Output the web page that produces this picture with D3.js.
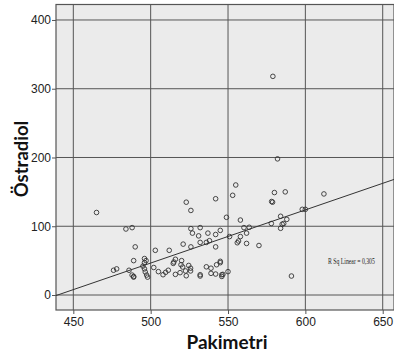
<!DOCTYPE html>
<html>
<head>
<meta charset="utf-8">
<script src="https://cdn.jsdelivr.net/npm/d3@7"></script>
<style>
  body { margin: 0; background: #fff; }
  svg { display: block; }
</style>
</head>
<body>
<div id="chart"></div>
<script>
// Pakimetri (x) values
const pakimetri = [
  465, 484, 488, 490, 489, 476, 478, 486, 488, 489, 489,
  496, 497, 496, 495, 496, 496.5, 497.4, 498, 502, 503, 505,
  508, 509.7, 511.4, 512, 514.6, 515, 516, 516, 519, 520, 519.6,
  520.7, 521, 522.5, 523, 523, 524.6, 525.8, 525.8, 526, 526, 527,
  526, 531, 532, 532, 532, 532, 536, 536, 537, 538, 539, 539,
  542, 542, 542, 542, 542.6, 545, 545, 545, 546, 546, 546.7, 550,
  549, 551, 553, 555, 556, 556.8, 558, 558, 560.3, 563.7, 562, 562,
  570, 578, 578.2, 578.8, 579, 580, 582, 584, 584, 585, 586, 587,
  588, 591, 598, 600, 612
];
// Östradiol (y) values, same order
const ostradiol = [
  120, 96, 98, 70, 50, 36, 38, 36, 29, 27, 26,
  53, 50, 47, 42, 38, 33.5, 29, 26, 40, 65, 34,
  29.5, 33, 36, 65, 46, 48, 52, 30, 32.5, 50, 44,
  40.7, 74, 35, 28, 135, 43, 39, 35, 123, 96.5, 90,
  70, 86, 98, 76.5, 29.5, 27.6, 76.5, 41, 90, 79, 39, 31.5,
  140, 88, 70, 30.5, 44, 94, 47, 49, 29.5, 27, 30, 34,
  113, 85, 145, 160, 76, 78.5, 109, 85, 98, 98.5, 90, 75,
  72, 104, 136, 135, 318, 149, 198, 114.5, 97, 103, 104, 150,
  110, 27.6, 124.6, 124.6, 147
];

// fit line (intercept, slope) and R² as shown in the picture
const fitLine = [-340, 0.773];
const rSqLabel = "R Sq Linear = 0,305";

const xTicks = [450, 500, 550, 600, 650];
const yTicks = [0, 100, 200, 300, 400];

const W = 394, H = 356;
const margin = { top: 4.5, right: 0, bottom: 46, left: 56 };

const svg = d3.select("#chart")
    .append("svg")
    .attr("width", W)
    .attr("height", H);

const x = d3.scaleLinear()
    .domain([438.8, 657.3])
    .range([margin.left, W - margin.right]);

const y = d3.scaleLinear()
    .domain([-21.8, 422.5])
    .range([H - margin.bottom, margin.top]);

svg.append("clipPath").attr("id", "plot")
    .append("rect")
    .attr("x", margin.left)
    .attr("y", margin.top)
    .attr("width", W - margin.left - margin.right)
    .attr("height", H - margin.bottom - margin.top);

// plot background
svg.append("rect")
    .attr("x", margin.left)
    .attr("y", margin.top)
    .attr("width", W - margin.left - margin.right)
    .attr("height", H - margin.bottom - margin.top)
    .attr("fill", "#ebebeb")
    .attr("stroke", "#555")
    .attr("stroke-width", 1.2);

// grid lines
const grid = svg.append("g").attr("clip-path", "url(#plot)");
grid.selectAll(".vg")
    .data(xTicks)
    .enter()
    .append("line")
    .attr("x1", d => x(d)).attr("x2", d => x(d))
    .attr("y1", margin.top).attr("y2", H - margin.bottom)
    .attr("stroke", "#555")
    .attr("stroke-width", 1);
grid.selectAll(".hg")
    .data(yTicks)
    .enter()
    .append("line")
    .attr("x1", margin.left).attr("x2", W)
    .attr("y1", d => y(d)).attr("y2", d => y(d))
    .attr("stroke", "#555")
    .attr("stroke-width", 1);

// axes
const xAxis = svg.append("g")
    .attr("transform", `translate(0,${H - margin.bottom})`)
    .call(d3.axisBottom(x).tickValues(xTicks).tickSize(4).tickPadding(3));
const yAxis = svg.append("g")
    .attr("transform", `translate(${margin.left},0)`)
    .call(d3.axisLeft(y).tickValues(yTicks).tickSize(4).tickPadding(1));

[xAxis, yAxis].forEach(a => {
    a.select(".domain").remove();
    a.selectAll("line").attr("stroke", "#555");
    a.selectAll("text")
        .attr("fill", "#222")
        .style("font-family", "'Liberation Sans', Arial, sans-serif")
        .style("font-size", "12px");
});

// fit line
const plotArea = svg.append("g").attr("clip-path", "url(#plot)");
const xd = x.domain();
plotArea.append("line")
    .attr("x1", x(xd[0])).attr("y1", y(fitLine[0] + fitLine[1] * xd[0]))
    .attr("x2", x(xd[1])).attr("y2", y(fitLine[0] + fitLine[1] * xd[1]))
    .attr("stroke", "#333")
    .attr("stroke-width", 1);

// points
plotArea.selectAll(".pt")
    .data(pakimetri.map((v, i) => ({ x: v, y: ostradiol[i] })))
    .enter()
    .append("circle")
    .attr("class", "pt")
    .attr("cx", d => x(d.x))
    .attr("cy", d => y(d.y))
    .attr("r", 2.3)
    .attr("fill", "none")
    .attr("stroke", "#333")
    .attr("stroke-width", 0.9);

// R squared label (narrow serif, squeezed horizontally)
svg.append("text")
    .attr("transform", "translate(328,264) scale(0.64,1)")
    .style("font-family", "'Liberation Serif', 'Times New Roman', serif")
    .style("font-size", "9px")
    .attr("fill", "#222")
    .text(rSqLabel);

// axis titles
svg.append("text")
    .attr("x", 227)
    .attr("y", 349)
    .attr("text-anchor", "middle")
    .style("font-family", "Lato, 'Open Sans', sans-serif")
    .style("font-weight", "bold")
    .style("font-size", "19px")
    .attr("fill", "#111")
    .text("Pakimetri");

svg.append("text")
    .attr("transform", "rotate(-90)")
    .attr("x", -159)
    .attr("y", 28)
    .attr("text-anchor", "middle")
    .style("font-family", "Lato, 'Open Sans', sans-serif")
    .style("font-weight", "bold")
    .style("font-size", "18.5px")
    .attr("fill", "#111")
    .text("Östradiol");
</script>
</body>
</html>
